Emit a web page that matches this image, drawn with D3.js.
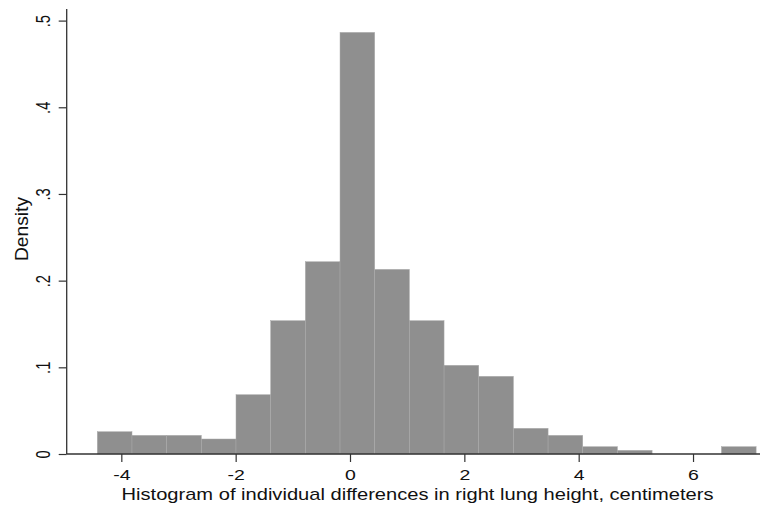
<!DOCTYPE html>
<html>
<head>
<meta charset="utf-8">
<script src="https://cdn.jsdelivr.net/npm/d3@7"></script>
<style>
  html, body { margin: 0; padding: 0; background: #fff; }
  svg { display: block; }
  text { font-family: "Liberation Sans", Arial, Helvetica, sans-serif; fill: #111; }
</style>
</head>
<body>
<svg id="chart" width="760" height="506"></svg>
<script>
// histogram bins (cm) and density heights
const binStart = -4.42;
const binWidth = 0.6065;
const densities = [0.0257, 0.0215, 0.0215, 0.0173, 0.0684, 0.1538, 0.2218, 0.4864, 0.2130,
  0.1538, 0.1023, 0.0896, 0.0296, 0.0215, 0.0084, 0.0042, 0, 0, 0.0084];
const xTicks = [-4, -2, 0, 2, 4, 6];
const xLabels = ["-4", "-2", "0", "2", "4", "6"];
const yTicks = [0, 0.1, 0.2, 0.3, 0.4, 0.5];
const yLabels = ["0", ".1", ".2", ".3", ".4", ".5"];
const xTitle = "Histogram of individual differences in right lung height, centimeters";
const yTitle = "Density";

const svg = d3.select("#chart");
const plotLeft = 66.7, plotRight = 760, plotTop = 9, plotBottom = 454;

const x = d3.scaleLinear().domain([-5, 7]).range([64.15, 750.2]);
const y = d3.scaleLinear().domain([0, 0.5]).range([plotBottom, 20.6]);

let bins = densities.map((d, i) => ({
  x0: binStart + i * binWidth,
  x1: binStart + (i + 1) * binWidth,
  d: d
}));

svg.append("g")
  .selectAll("rect")
  .data(bins.filter(b => b.d > 0))
  .join("rect")
  .attr("x", b => x(b.x0))
  .attr("width", b => x(b.x1) - x(b.x0))
  .attr("y", b => y(b.d))
  .attr("height", b => y(0) - y(b.d))
  .attr("fill", "#8f8f8f")
  .attr("stroke", "#a9a9a9")
  .attr("stroke-width", 0.5);

// x axis
const xAxis = svg.append("g")
  .attr("transform", `translate(0,${plotBottom})`)
  .call(d3.axisBottom(x).tickValues(xTicks).tickSize(8).tickPadding(7)
    .tickFormat((d, i) => xLabels[i]));
xAxis.select(".domain").remove();
xAxis.append("line")
  .attr("x1", plotLeft).attr("x2", plotRight)
  .attr("stroke", "#333").attr("stroke-width", 1.3);
xAxis.selectAll(".tick line").attr("stroke", "#333").attr("stroke-width", 1.2);
xAxis.selectAll(".tick text")
  .attr("transform", "scale(1.3,1)")
  .attr("fill", "#111")
  .style("font-size", "15px")
  .style("font-family", "'Liberation Sans', Arial, sans-serif");

// y axis
const yAxis = svg.append("g")
  .attr("transform", `translate(${plotLeft},0)`)
  .call(d3.axisLeft(y).tickValues(yTicks).tickSize(8).tickFormat((d, i) => yLabels[i]));
yAxis.select(".domain").remove();
yAxis.append("line")
  .attr("y1", plotTop).attr("y2", plotBottom)
  .attr("stroke", "#333").attr("stroke-width", 1.3);
yAxis.selectAll(".tick line").attr("stroke", "#333").attr("stroke-width", 1.2);
yAxis.selectAll(".tick text")
  .attr("x", null).attr("dy", null)
  .attr("text-anchor", "middle")
  .attr("transform", "translate(-16.3,0) rotate(-90) scale(0.95,1.3)")
  .attr("fill", "#111")
  .style("font-size", "15.5px")
  .style("font-family", "'Liberation Sans', Arial, sans-serif");

// titles
svg.append("text")
  .attr("x", 417.5)
  .attr("y", 500)
  .attr("text-anchor", "middle")
  .attr("textLength", 592)
  .attr("lengthAdjust", "spacingAndGlyphs")
  .style("font-size", "17px")
  .text(xTitle);

svg.append("text")
  .attr("transform", `translate(27.5,229) rotate(-90)`)
  .attr("text-anchor", "middle")
  .attr("textLength", 64)
  .attr("lengthAdjust", "spacingAndGlyphs")
  .style("font-size", "18px")
  .text(yTitle);
</script>
</body>
</html>
